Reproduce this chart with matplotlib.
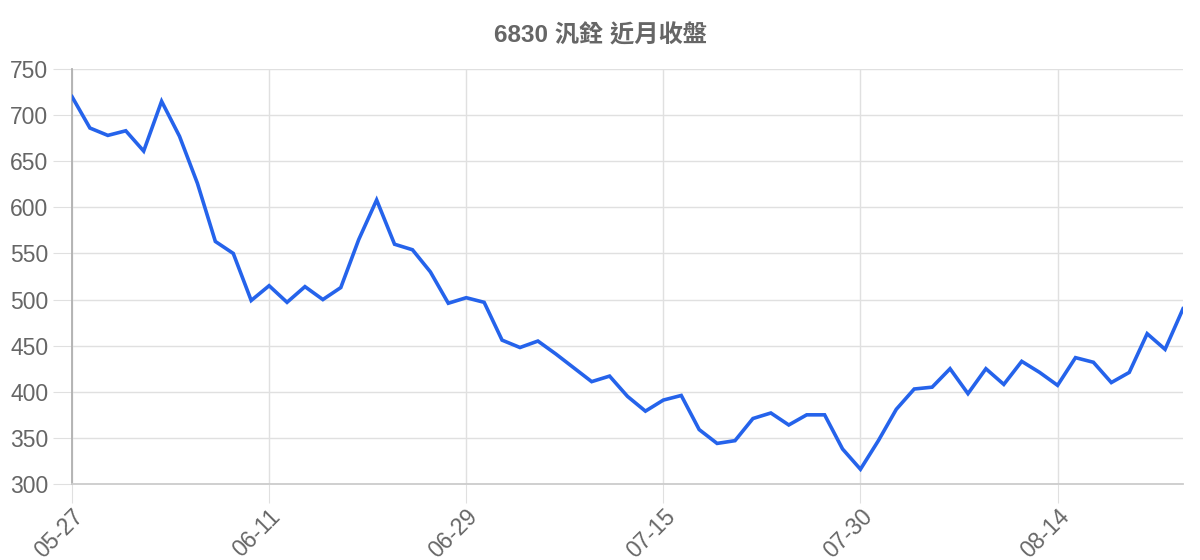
import matplotlib.pyplot as plt
import numpy as np

plt.rcParams['font.family'] = ['Liberation Sans', 'Noto Sans CJK TC', 'DejaVu Sans']

# 日期 (每 11 筆一個刻度)
dates = ['05-27', '05-28', '05-29', '05-30', '05-31', '06-03', '06-04', '06-05', '06-06', '06-07', '06-10',
         '06-11', '06-12', '06-13', '06-14', '06-17', '06-18', '06-19', '06-20', '06-24', '06-25', '06-26',
         '06-29', '07-01', '07-02', '07-03', '07-04', '07-05', '07-08', '07-09', '07-10', '07-11', '07-12',
         '07-15', '07-16', '07-17', '07-18', '07-19', '07-22', '07-23', '07-24', '07-25', '07-26', '07-29',
         '07-30', '07-31', '08-01', '08-02', '08-05', '08-06', '08-07', '08-08', '08-09', '08-12', '08-13',
         '08-14', '08-15', '08-16', '08-19', '08-20', '08-21', '08-22', '08-23']
# 收盤價
close = [720, 686, 678, 683, 661, 715, 677, 626, 563, 550, 499,
         515, 497, 514, 500, 513, 565, 608, 560, 554, 530, 496,
         502, 497, 456, 448, 455, 441, 426, 411, 417, 395, 379,
         391, 396, 359, 344, 347, 371, 377, 364, 375, 375, 338,
         316, 347, 381, 403, 405, 425, 398, 425, 408, 433, 421,
         407, 437, 432, 410, 421, 463, 446, 490]
title = '6830 汎銓 近月收盤'

x = np.arange(len(dates))

fig = plt.figure(figsize=(12, 5.6), dpi=100)
ax = fig.add_axes([72/1200, 76/560, 1111/1200, 415/560])

ax.plot(x, close, color='#2563eb', linewidth=2.6, solid_joinstyle='miter', zorder=3)

ax.set_xlim(0, len(dates) - 1)
ax.set_ylim(300, 750)
ax.set_yticks(np.arange(300, 751, 50))
tick_idx = x[::11]
ax.set_xticks(tick_idx)
ax.set_xticklabels([dates[i] for i in tick_idx], rotation=45, ha='right', va='top',
                   rotation_mode='anchor')

ax.grid(True, color='#e0e0e0', linewidth=1.0)
ax.set_axisbelow(True)
for s in ['top', 'right']:
    ax.spines[s].set_visible(False)
ax.spines['left'].set_color('#b0b0b0')
ax.spines['bottom'].set_color('#cccccc')
ax.spines['left'].set_linewidth(1.3)
ax.spines['bottom'].set_linewidth(1.3)

ax.tick_params(axis='y', length=14, color='#e0e0e0', labelsize=16.5, labelcolor='#666666', pad=3)
ax.tick_params(axis='x', length=14, color='#e0e0e0', labelsize=16.5, labelcolor='#666666', pad=1)

fig.text(0.5, 1 - 36/560, title, ha='center', va='center', fontsize=17.5, fontweight='bold',
         color='#666666', family=['Liberation Sans', 'Noto Sans CJK TC'])

fig.savefig('out.png', dpi=100)
